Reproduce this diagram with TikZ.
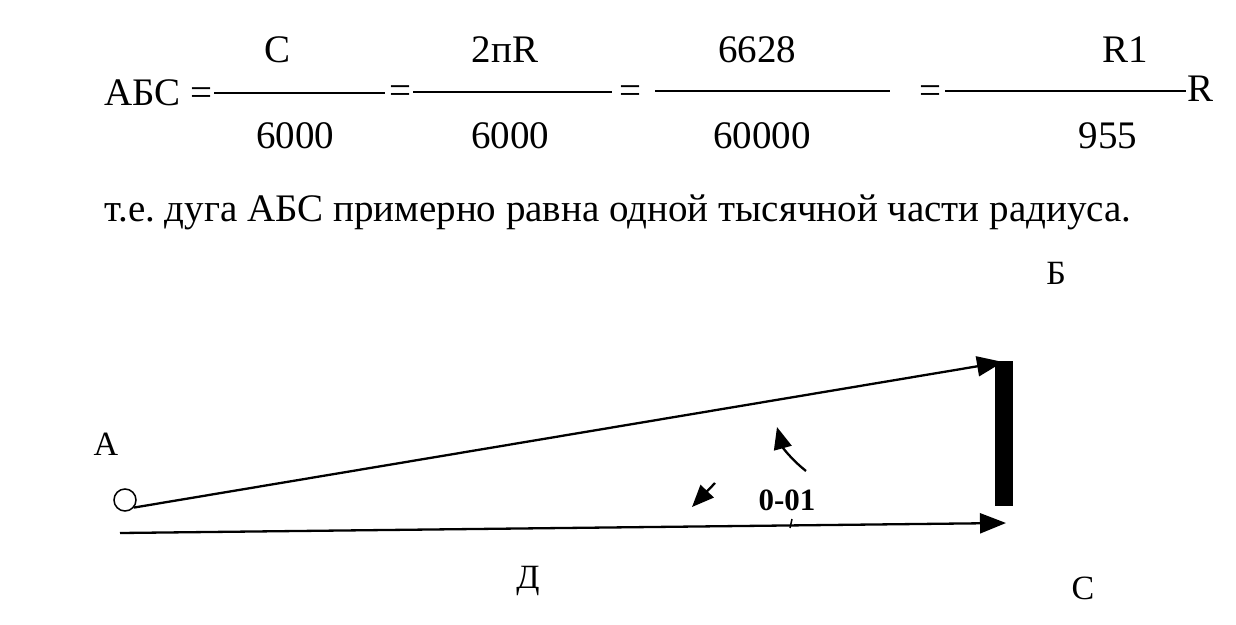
\documentclass[tikz,border=0pt]{standalone}
\usepackage{fontspec}
\setmainfont{Liberation Serif}
\usetikzlibrary{arrows.meta}
\frenchspacing
\begin{document}
\begin{tikzpicture}[x=1pt,y=-1pt,
  txt/.style={inner sep=0pt, anchor=base, font=\fontsize{39}{44}\selectfont},
  lbl/.style={inner sep=0pt, font=\fontsize{34}{38}\selectfont},
  fracbar/.style={line width=1.6pt},
  ray/.style={line width=2.3pt, -{Triangle[length=26pt,width=20pt]}},
  smallray/.style={line width=2.3pt, -{Triangle[length=22pt,width=18pt]}},
]
\useasboundingbox[fill=white] (0,0) rectangle (1236,624);

% formula
\node[txt, anchor=base west] (lhs) at (104,105) {АБС =};
\coordinate (b1l) at (214,93); \coordinate (b1r) at (385,93);
\draw[fracbar] (b1l) -- (b1r);
\node[txt] (n1) at (278,62) {C};
\node[txt] (d1) at (295,148) {6000};
\node[txt] (eq1) at (400,103) {=};
\coordinate (b2l) at (413,92); \coordinate (b2r) at (612,92);
\draw[fracbar] (b2l) -- (b2r);
\node[txt] (n2) at (505,62) {2пR};
\node[txt] (d2) at (510,148) {6000};
\node[txt] (eq2) at (630,103) {=};
\coordinate (b3l) at (655,91); \coordinate (b3r) at (890,91);
\draw[fracbar] (b3l) -- (b3r);
\node[txt] (n3) at (757,62) {6628};
\node[txt] (d3) at (762,148) {60000};
\node[txt] (eq3) at (930,103) {=};
\coordinate (b4l) at (945,91); \coordinate (b4r) at (1186,91);
\draw[fracbar] (b4l) -- (b4r);
\node[txt] (n4) at (1125,62) {R1};
\node[txt] (d4) at (1108,148) {955};
\node[txt, anchor=base west] (rr) at (1187,101) {R};

% sentence
\node[txt, anchor=base west] (sent) at (104,221) {т.е. дуга АБС примерно равна одной тысячной части радиуса.};

% diagram
\node[draw, circle, minimum size=22pt, inner sep=0pt, line width=1.5pt] (A) at (125,500) {};
\node[lbl] (la) at (106,444) {А};
\node[lbl] (lb) at (1056,273) {Б};
\node[lbl] (lc) at (1083,588) {С};
\node[lbl] (ld) at (528,581) {Д};
\node[lbl, font=\fontsize{31}{36}\selectfont\bfseries] (l001) at (787,500) {0-01};

\node[fill=black, minimum width=18pt, minimum height=145pt, inner sep=0pt] (wall) at (1004,433) {};
\coordinate (Btip) at (1003,362);
\coordinate (L0) at (120,533);
\coordinate (Ctip) at (1006,523);
\draw[ray] (A.-40) -- (Btip);
\draw[ray] (L0) -- (Ctip);

\coordinate (c0) at (806,471);
\coordinate (c1) at (777,427);
\draw[smallray] (c0) to[bend left=18] (c1);
\coordinate (s0) at (715,483);
\coordinate (s1) at (692,507);
\draw[smallray] (s0) -- (s1);
\coordinate (t0) at (792,519);
\coordinate (t1) at (790,528);
\draw[line width=1.5pt] (t0) -- (t1);
\end{tikzpicture}
\end{document}
